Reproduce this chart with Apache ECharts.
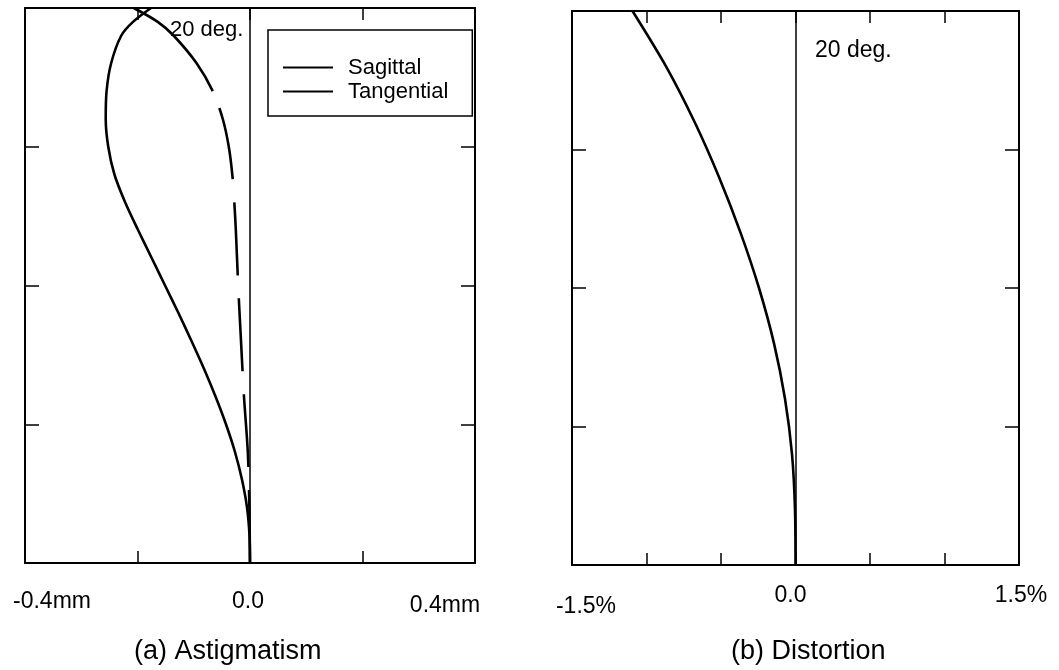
<!DOCTYPE html>
<html>
<head>
<meta charset="utf-8">
<script src="https://cdn.jsdelivr.net/npm/echarts@6/dist/echarts.min.js"></script>
<style>
  html, body { margin: 0; padding: 0; background: #fff; }
  #main { width: 1059px; height: 670px; }
</style>
</head>
<body>
<div id="main"></div>
<script>
// field angle (deg) vs aberration values
var sagittalDeg = [0, 1, 2, 3, 4, 5, 6, 7, 8, 9, 10, 11, 12, 13, 14, 15, 16, 17, 18, 19, 19.5, 20];
var sagittalVal = [0, -0.0009, -0.0053, -0.0142, -0.0267, -0.0427, -0.0613, -0.0818, -0.104, -0.127, -0.151, -0.175, -0.199, -0.222, -0.241, -0.252, -0.2565, -0.255, -0.247, -0.229, -0.208, -0.176];

var tangentialDeg = [0, 2, 4, 6, 8, 10, 12, 13, 14, 15, 16, 17, 18, 19, 19.5, 20];
var tangentialVal = [0, -0.0011, -0.0039, -0.0107, -0.016, -0.021, -0.0252, -0.0279, -0.0315, -0.0377, -0.0484, -0.0661, -0.0946, -0.1355, -0.164, -0.2066];

var distortionDeg = [0, 2, 4, 6, 8, 10, 12, 14, 16, 18, 20];
var distortionVal = [0, -0.0034, -0.0235, -0.0705, -0.1443, -0.245, -0.369, -0.513, -0.678, -0.869, -1.094];

// tick labels shown under each panel
var astigTickValues = [-0.4, 0, 0.4];
var astigTickTexts = ['-0.4mm', '0.0', '0.4mm'];
var distTickValues = [-1.5, 0, 1.5];
var distTickTexts = ['-1.5%', '0.0', '1.5%'];
var tickStyles = ['lo', 'mid', 'hi'];

var seriesNames = ['Sagittal', 'Tangential'];
var panelTitles = ['(a) Astigmatism', '(b) Distortion'];

function pairs(vals, degs) {
  var out = [];
  for (var i = 0; i < vals.length; i++) out.push([vals[i], degs[i]]);
  return out;
}

function tickFormatter(values, texts) {
  return function (v) {
    for (var i = 0; i < values.length; i++) {
      if (Math.abs(v - values[i]) < 1e-9) return '{' + tickStyles[i] + '|' + texts[i] + '}';
    }
    return '';
  };
}

var FONT = '"Liberation Sans", Arial, sans-serif';
var black = '#000';

function xBottom(gridIndex, min, max, interval, fmt, margin, rich) {
  return {
    type: 'value', gridIndex: gridIndex, position: 'bottom',
    min: min, max: max, interval: interval,
    axisLine: { show: true, onZero: false, lineStyle: { color: black, width: 2 } },
    axisTick: { show: true, inside: true, length: 12, lineStyle: { color: black, width: 1.5 } },
    splitLine: { show: false },
    axisLabel: {
      show: true, showMinLabel: true, showMaxLabel: true, margin: margin,
      color: black, fontFamily: FONT, fontSize: 23, formatter: fmt, rich: rich
    }
  };
}
function xTop(gridIndex, min, max, interval) {
  return {
    type: 'value', gridIndex: gridIndex, position: 'top',
    min: min, max: max, interval: interval,
    axisLine: { show: true, onZero: false, lineStyle: { color: black, width: 2 } },
    axisTick: { show: true, inside: true, length: 12, lineStyle: { color: black, width: 1.5 } },
    splitLine: { show: false },
    axisLabel: { show: false }
  };
}
function yAxisDef(gridIndex, pos) {
  return {
    type: 'value', gridIndex: gridIndex, position: pos,
    min: 0, max: 20, interval: 5,
    axisLine: { show: true, onZero: false, lineStyle: { color: black, width: 2 } },
    axisTick: { show: true, inside: true, length: 14, lineStyle: { color: black, width: 1.5 } },
    splitLine: { show: false },
    axisLabel: { show: false }
  };
}

var zeroLine = {
  silent: true, symbol: 'none', animation: false,
  label: { show: false },
  lineStyle: { color: black, width: 1.5, type: 'solid' },
  data: [{ xAxis: 0 }]
};

var chart = echarts.init(document.getElementById('main'));
var option = {
  animation: false,
  backgroundColor: '#fff',
  textStyle: { fontFamily: FONT, color: black },
  grid: [
    { left: 25, top: 8, width: 450, height: 555, outerBoundsMode: 'none' },
    { left: 572, top: 11, width: 447, height: 554, outerBoundsMode: 'none' }
  ],
  xAxis: [
    xBottom(0, -0.4, 0.4, 0.2, tickFormatter(astigTickValues, astigTickTexts), 27, {
      lo: { fontSize: 23, fontFamily: FONT, color: black, padding: [0, 0, 0, 54] },
      mid: { fontSize: 23, fontFamily: FONT, color: black, padding: [0, 4, 0, 0] },
      hi: { fontSize: 23, fontFamily: FONT, color: black, padding: [4, 60, 0, 0] }
    }),
    xTop(0, -0.4, 0.4, 0.2),
    xBottom(1, -1.5, 1.5, 0.5, tickFormatter(distTickValues, distTickTexts), 19, {
      lo: { fontSize: 23, fontFamily: FONT, color: black, padding: [11, 0, 0, 28] },
      mid: { fontSize: 23, fontFamily: FONT, color: black, padding: [0, 10, 0, 0] },
      hi: { fontSize: 23, fontFamily: FONT, color: black, padding: [0, 0, 0, 4] }
    }),
    xTop(1, -1.5, 1.5, 0.5)
  ],
  yAxis: [
    yAxisDef(0, 'left'),
    yAxisDef(0, 'right'),
    yAxisDef(1, 'left'),
    yAxisDef(1, 'right')
  ],
  legend: {
    data: seriesNames,
    orient: 'vertical',
    left: 268, top: 30,
    padding: [26, 24, 13, 15],
    itemGap: 1,
    icon: 'rect',
    itemWidth: 50, itemHeight: 2.2,
    borderColor: black, borderWidth: 1.5, borderRadius: 0,
    backgroundColor: '#fff',
    textStyle: { fontFamily: FONT, fontSize: 22, color: black, lineHeight: 23, padding: [0, 0, 0, 10] }
  },
  series: [
    {
      name: seriesNames[0], type: 'line', xAxisIndex: 0, yAxisIndex: 0,
      data: pairs(sagittalVal, sagittalDeg),
      smooth: 0.3, symbol: 'none', clip: true,
      itemStyle: { color: black },
      lineStyle: { color: black, width: 2.6 },
      markLine: zeroLine, z: 3
    },
    {
      name: seriesNames[1], type: 'line', xAxisIndex: 0, yAxisIndex: 0,
      data: pairs(tangentialVal, tangentialDeg),
      smooth: 0.3, symbol: 'none', clip: true,
      itemStyle: { color: black },
      lineStyle: { color: black, width: 2.6, type: [73, 23, 73, 23, 73, 23, 73, 23, 73, 18, 160, 20] },
      z: 3
    },
    {
      name: 'Distortion', type: 'line', xAxisIndex: 2, yAxisIndex: 2,
      data: pairs(distortionVal, distortionDeg),
      smooth: 0.3, symbol: 'none', clip: true,
      itemStyle: { color: black },
      lineStyle: { color: black, width: 2.6 },
      markLine: zeroLine, z: 3
    }
  ],
  graphic: [
    { type: 'text', left: 170, top: 19, z: 10,
      style: { text: '20 deg.', fontFamily: FONT, fontSize: 22, fill: black } },
    { type: 'text', left: 815, top: 39, z: 10,
      style: { text: '20 deg.', fontFamily: FONT, fontSize: 23, fill: black } },
    { type: 'text', left: 134, top: 638, z: 10,
      style: { text: panelTitles[0], fontFamily: FONT, fontSize: 27, fill: black } },
    { type: 'text', left: 731, top: 638, z: 10,
      style: { text: panelTitles[1], fontFamily: FONT, fontSize: 27, fill: black } }
  ]
};
chart.setOption(option);
</script>
</body>
</html>
